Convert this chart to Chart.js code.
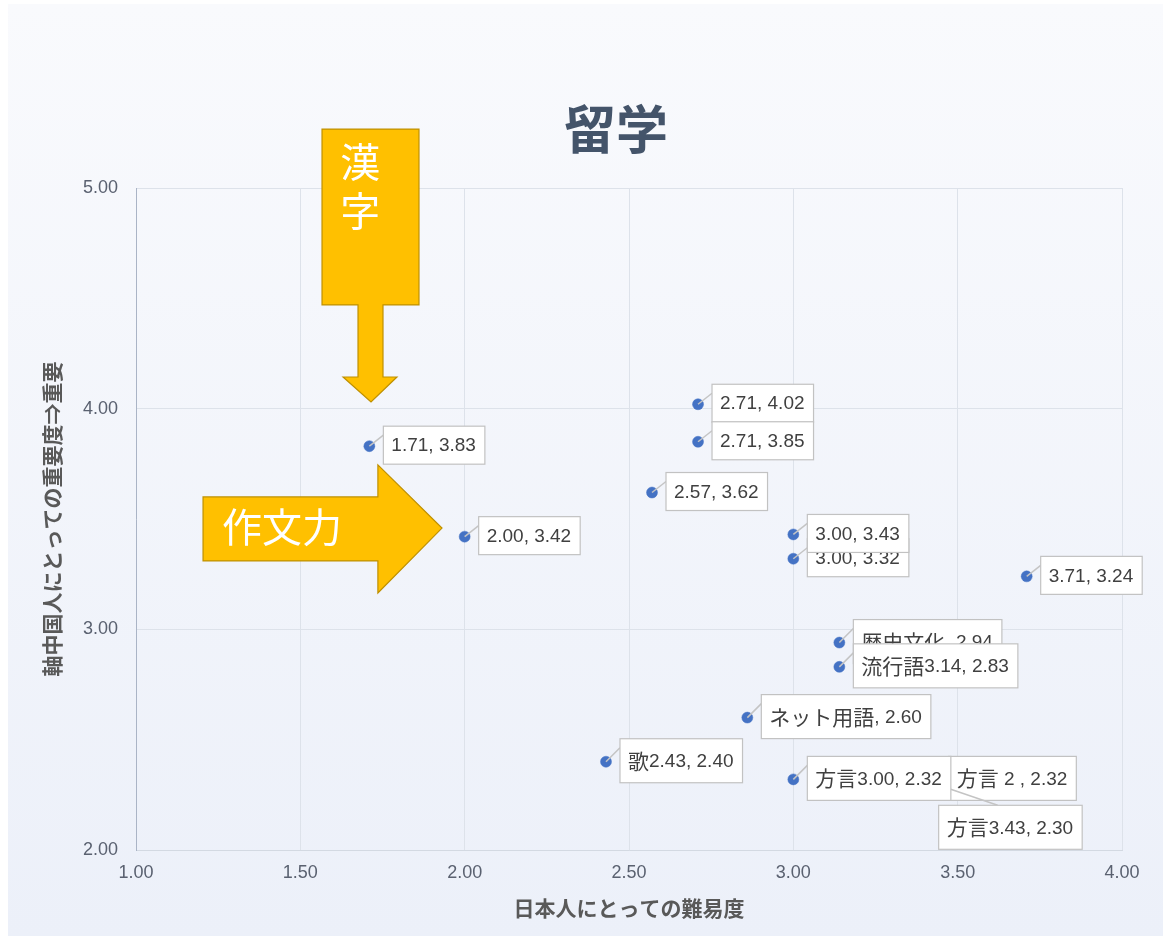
<!DOCTYPE html>
<html>
<head>
<meta charset="utf-8">
<script src="https://cdn.jsdelivr.net/npm/chart.js@4/dist/chart.umd.min.js"></script>
<style>
html,body{margin:0;padding:0;background:#ffffff;}
#wrap{position:relative;width:1163px;height:938px;}
canvas{display:block;}
</style>
</head>
<body>
<div id="wrap"><canvas id="c" width="1163" height="938"></canvas></div>
<script>
// ---- data ----
const xValues = [1.71, 2.00, 2.71, 2.71, 2.57, 3.00, 3.00, 3.71, 3.14, 3.14, 2.86, 2.43, 3.43, 3.43, 3.00];
const yValues = [3.83, 3.42, 4.02, 3.85, 3.62, 3.32, 3.43, 3.24, 2.94, 2.83, 2.60, 2.40, 2.32, 2.30, 2.32];
const pointLabels = ["1.71, 3.83", "2.00, 3.42", "2.71, 4.02", "2.71, 3.85", "2.57, 3.62", "3.00, 3.32", "3.00, 3.43", "3.71, 3.24",
  "歴史文化, 2.94", "流行語3.14, 2.83", "ネット用語, 2.60", "歌2.43, 2.40", "方言 2 , 2.32", "方言3.43, 2.30", "方言3.00, 2.32"];
const xTicks = [1.00, 1.50, 2.00, 2.50, 3.00, 3.50, 4.00];
const yTicks = [2.00, 3.00, 4.00, 5.00];
const chartTitle = "留学";
const xTitle = "日本人にとっての難易度";
const yTitle = "軸中国人にとっての重要度⇒重要";
const kanjiText = ["漢", "字"];
const essayText = "作文力";

// ---- layout / style config (not data) ----
const LATIN = '"Liberation Sans", Arial, "Noto Sans CJK JP", sans-serif';
const CJK = '"Noto Sans CJK JP", "Liberation Sans", sans-serif';
// arrow shapes in data coordinates
const downArrow = [[1.566,5.267],[1.861,5.267],[1.861,4.470],[1.7515,4.470],[1.7515,4.1435],[1.794,4.1435],[1.715,4.030],[1.630,4.1435],[1.6755,4.1435],[1.6755,4.470],[1.566,4.470]];
const rightArrow = [[1.204,3.600],[1.736,3.600],[1.736,3.745],[1.931,3.459],[1.736,3.165],[1.736,3.310],[1.204,3.310]];
const kanjiPos = [[1.682,5.118],[1.682,4.896]];
const essayPos = [1.262,3.463];
const specialPlacement = {13: {dx: 4, dy: 21.5, leaderDx: 59, leaderDy: 0}};
const titlePos = {x: 616, y: 129};

const bgPlugin = {
  id: 'bg',
  beforeDraw(chart) {
    const ctx = chart.ctx;
    ctx.save();
    ctx.fillStyle = '#ffffff';
    ctx.fillRect(0, 0, chart.width, chart.height);
    const g = ctx.createLinearGradient(0, 4, 0, 936);
    g.addColorStop(0, '#f9fafd');
    g.addColorStop(1, '#ecf0f9');
    ctx.fillStyle = g;
    ctx.fillRect(8, 4, chart.width - 8, 932);
    ctx.restore();
  }
};

const titlePlugin = {
  id: 'mainTitle',
  afterDraw(chart) {
    const ctx = chart.ctx;
    ctx.save();
    ctx.fillStyle = '#44546a';
    ctx.font = 'bold 52px ' + CJK;
    ctx.textAlign = 'center';
    ctx.textBaseline = 'middle';
    ctx.fillText(chartTitle, titlePos.x, titlePos.y);
    ctx.restore();
  }
};

function poly(ctx, chart, pts) {
  const xs = chart.scales.x, ys = chart.scales.y;
  ctx.beginPath();
  pts.forEach((p, i) => {
    const px = xs.getPixelForValue(p[0]), py = ys.getPixelForValue(p[1]);
    if (i === 0) ctx.moveTo(px, py); else ctx.lineTo(px, py);
  });
  ctx.closePath();
}

const arrowPlugin = {
  id: 'arrows',
  afterDatasetsDraw(chart) {
    const ctx = chart.ctx;
    const xs = chart.scales.x, ys = chart.scales.y;
    ctx.save();
    ctx.fillStyle = '#ffc000';
    ctx.strokeStyle = '#bf9000';
    ctx.lineWidth = 1.2;
    poly(ctx, chart, downArrow); ctx.fill(); ctx.stroke();
    poly(ctx, chart, rightArrow); ctx.fill(); ctx.stroke();
    ctx.fillStyle = '#ffffff';
    ctx.font = '40px ' + CJK;
    ctx.textAlign = 'center';
    ctx.textBaseline = 'middle';
    kanjiText.forEach((t, i) => {
      ctx.fillText(t, xs.getPixelForValue(kanjiPos[i][0]), ys.getPixelForValue(kanjiPos[i][1]));
    });
    ctx.textAlign = 'left';
    ctx.fillText(essayText, xs.getPixelForValue(essayPos[0]), ys.getPixelForValue(essayPos[1]));
    ctx.restore();
  }
};

function splitRuns(text) {
  const runs = [];
  const re = /[\u3000-\u9fff\uff00-\uffef]/;
  for (const ch of text) {
    const cjk = re.test(ch);
    if (runs.length && runs[runs.length - 1].cjk === cjk) runs[runs.length - 1].t += ch;
    else runs.push({t: ch, cjk});
  }
  return runs;
}

const labelPlugin = {
  id: 'pointLabels',
  afterDatasetsDraw(chart) {
    const ctx = chart.ctx;
    const meta = chart.getDatasetMeta(0);
    ctx.save();
    meta.data.forEach((el, i) => {
      const px = el.x, py = el.y;
      const runs = splitRuns(pointLabels[i]);
      let w = 0;
      runs.forEach(r => {
        ctx.font = r.cjk ? '21px ' + CJK : '19px ' + LATIN;
        r.w = ctx.measureText(r.t).width;
        w += r.w;
      });
      const hasCjk = runs.some(r => r.cjk);
      const h = hasCjk ? 44 : 38;
      const bw = w + 17;
      let bx, by, lx, ly;
      const sp = specialPlacement[i];
      if (sp) {
        bx = px + sp.dx; by = py + sp.dy;
        lx = bx + sp.leaderDx; ly = by + sp.leaderDy;
      } else {
        bx = px + 14; by = py - h / 2 - 1;
        lx = bx; ly = by + 9;
      }
      ctx.strokeStyle = '#c4c4c4';
      ctx.lineWidth = 1.5;
      ctx.beginPath();
      ctx.moveTo(px, py);
      ctx.lineTo(lx, ly);
      ctx.stroke();
      ctx.fillStyle = '#ffffff';
      ctx.fillRect(bx, by, bw, h);
      ctx.strokeStyle = '#c2c2c2';
      ctx.lineWidth = 1.2;
      ctx.strokeRect(bx, by, bw, h);
      ctx.fillStyle = '#404040';
      ctx.textBaseline = 'middle';
      ctx.textAlign = 'left';
      let tx = bx + 8;
      runs.forEach(r => {
        ctx.font = r.cjk ? '21px ' + CJK : '19px ' + LATIN;
        ctx.fillText(r.t, tx, by + h / 2 + (r.cjk ? 0 : 1));
        tx += r.w;
      });
    });
    ctx.restore();
  }
};

const points = xValues.map((x, i) => ({x, y: yValues[i]}));

new Chart(document.getElementById('c'), {
  type: 'scatter',
  data: {
    datasets: [{
      data: points,
      pointRadius: 5.5,
      pointHoverRadius: 5.5,
      backgroundColor: '#4472c4',
      borderColor: '#4472c4',
      borderWidth: 0.5
    }]
  },
  options: {
    responsive: false,
    animation: false,
    events: [],
    layout: {padding: {left: 0, right: 41, top: 188, bottom: 0}},
    plugins: {
      legend: {display: false},
      tooltip: {enabled: false},
      title: {display: false}
    },
    scales: {
      x: {
        type: 'linear',
        position: 'bottom',
        min: xTicks[0],
        max: xTicks[xTicks.length - 1],
        afterBuildTicks: s => { s.ticks = xTicks.map(v => ({value: v})); },
        afterFit: s => { s.height = 88; },
        grid: {color: '#dde2ea', lineWidth: 1, drawTicks: false},
        border: {color: '#d3d9e2'},
        ticks: {
          padding: 12,
          color: '#5a6170',
          font: {family: LATIN, size: 18},
          maxRotation: 0,
          callback: v => Number(v).toFixed(2)
        },
        title: {
          display: true,
          text: xTitle,
          color: '#595959',
          font: {family: CJK, size: 21, weight: 'bold'},
          padding: {top: 0, bottom: 17.4}
        }
      },
      y: {
        type: 'linear',
        min: yTicks[0],
        max: yTicks[yTicks.length - 1],
        afterBuildTicks: s => { s.ticks = yTicks.map(v => ({value: v})); },
        afterFit: s => { s.width = 136; },
        grid: {color: '#dde2ea', lineWidth: 1, drawTicks: false},
        border: {color: '#aab4c6'},
        ticks: {
          padding: 18,
          color: '#5a6170',
          font: {family: LATIN, size: 18},
          callback: v => Number(v).toFixed(2)
        },
        title: {
          display: true,
          text: yTitle,
          color: '#595959',
          font: {family: CJK, size: 21, weight: 'bold'},
          padding: {top: 39.4, bottom: 0}
        }
      }
    }
  },
  plugins: [bgPlugin, arrowPlugin, labelPlugin, titlePlugin]
});
</script>
</body>
</html>
